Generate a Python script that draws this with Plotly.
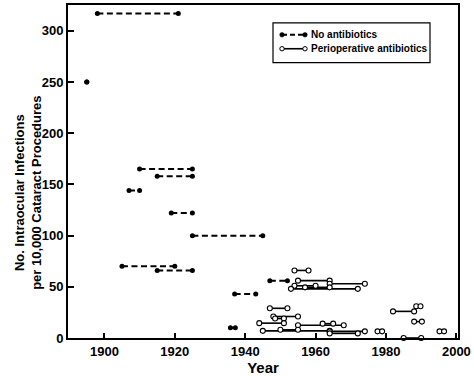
import plotly.graph_objects as go

# ---- data (years of study period, rate per 10,000 procedures) ----
na_start = [1895, 1898, 1910, 1915, 1907, 1919, 1925, 1905, 1915, 1947, 1937, 1935.8]
na_end   = [1895, 1921, 1925, 1925, 1910, 1925, 1945, 1920, 1925, 1952, 1943, 1937.2]
na_rate  = [250, 317, 165, 158, 144, 122, 100, 70, 66, 56, 43, 10]

pa_start = [1954, 1955, 1964, 1954, 1957, 1953, 1988.6, 1947, 1982, 1948, 1948.5, 1988,
            1944, 1955, 1962, 1945, 1950, 1964, 1964, 1977.6, 1995.2, 1985]
pa_end   = [1958, 1964, 1974, 1960, 1964, 1972, 1989.8, 1952, 1988, 1955, 1951, 1990.2,
            1951, 1968, 1965, 1964, 1955, 1974, 1972, 1978.9, 1996.5, 1990]
pa_rate  = [66, 56, 53, 51, 49.5, 48, 31, 29, 26, 21, 19, 16,
            14.5, 12.5, 14, 7, 8, 6.5, 4.5, 6.5, 6.5, 0]

x_ticks = [1900, 1920, 1940, 1960, 1980, 2000]
y_ticks = [0, 50, 100, 150, 200, 250, 300]

FONT = "Liberation Sans, Arial, Helvetica, sans-serif"


def segs(starts, ends, vals):
    xs, ys = [], []
    for s, e, v in zip(starts, ends, vals):
        xs += [s, e, None]
        ys += [v, v, None]
    return xs, ys


fig = go.Figure()

nx, ny = segs(na_start, na_end, na_rate)
fig.add_trace(go.Scatter(
    x=nx, y=ny, mode="lines+markers", name="No antibiotics",
    line=dict(color="black", width=2, dash="6px,3.5px"),
    marker=dict(symbol="circle", size=5, color="black"),
    showlegend=False, cliponaxis=False))

px_, py_ = segs(pa_start, pa_end, pa_rate)
fig.add_trace(go.Scatter(
    x=px_, y=py_, mode="lines+markers", name="Perioperative antibiotics",
    line=dict(color="black", width=1.6),
    marker=dict(symbol="circle", size=5, color="white",
                line=dict(color="black", width=1.1)),
    showlegend=False, cliponaxis=False))

# ---- layout geometry ----
W, H = 474, 376
L, R, T, B = 68, 16, 3, 38
PW, PH = W - L - R, H - T - B


def pxx(p):
    return (p - L) / PW


def pxy(p):
    return (H - B - p) / PH


shapes = []
annotations = []

# legend box
shapes.append(dict(type="rect", xref="paper", yref="paper",
                   x0=pxx(273), x1=pxx(430), y0=pxy(61), y1=pxy(21),
                   line=dict(color="black", width=1.2), fillcolor="white", layer="above"))
# legend row 1: dashed with filled dots
shapes.append(dict(type="line", xref="paper", yref="paper",
                   x0=pxx(282), x1=pxx(305), y0=pxy(33), y1=pxy(33),
                   line=dict(color="black", width=2, dash="5px,3px"), layer="above"))
for xx in (282, 305):
    shapes.append(dict(type="circle", xref="paper", yref="paper", xsizemode="pixel",
                       ysizemode="pixel", xanchor=pxx(xx), yanchor=pxy(33),
                       x0=-2.3, x1=2.3, y0=-2.3, y1=2.3, fillcolor="black",
                       line=dict(color="black", width=0.5), layer="above"))
# legend row 2: solid with open end
shapes.append(dict(type="line", xref="paper", yref="paper",
                   x0=pxx(282), x1=pxx(305), y0=pxy(47), y1=pxy(47),
                   line=dict(color="black", width=1.6), layer="above"))
for xx in (282, 305):
    shapes.append(dict(type="circle", xref="paper", yref="paper", xsizemode="pixel",
                       ysizemode="pixel", xanchor=pxx(xx), yanchor=pxy(47),
                       x0=-2.2, x1=2.2, y0=-2.2, y1=2.2, fillcolor="white",
                       line=dict(color="black", width=1), layer="above"))

annotations.append(dict(text="No antibiotics", xref="paper", yref="paper",
                        x=pxx(309), y=pxy(33), xanchor="left", yanchor="middle",
                        showarrow=False, font=dict(family=FONT, size=10, color="black", weight="bold")))
annotations.append(dict(text="Perioperative antibiotics", xref="paper", yref="paper",
                        x=pxx(309), y=pxy(47), xanchor="left", yanchor="middle",
                        showarrow=False, font=dict(family=FONT, size=10, color="black", weight="bold")))

# y-axis title (two lines)
annotations.append(dict(text="No. Intraocular Infections<br>per 10,000 Cataract Procedures",
                        xref="paper", yref="paper", x=pxx(28), y=pxy(192),
                        xanchor="center", yanchor="middle", textangle=-90, showarrow=False,
                        font=dict(family=FONT, size=13, color="black", weight="bold")))

fig.update_layout(
    width=W, height=H,
    margin=dict(l=L, r=R, t=T, b=B),
    paper_bgcolor="white", plot_bgcolor="white",
    font=dict(family=FONT, color="black"),
    shapes=shapes, annotations=annotations,
    showlegend=False,
)

fig.update_xaxes(
    range=[1889.66, 2000.46], tickvals=x_ticks, ticks="inside", ticklen=5,
    tickwidth=1.5, tickcolor="black", showline=True, linecolor="black", linewidth=2,
    mirror=True, showgrid=False, zeroline=False,
    tickfont=dict(family=FONT, size=13, color="black", weight="bold"),
    title=dict(text="Year", standoff=1,
               font=dict(family=FONT, size=15, color="black", weight="bold")),
)
fig.update_yaxes(
    range=[0, 325.3], tickvals=y_ticks, ticks="inside", ticklen=6,
    tickwidth=1.5, tickcolor="black", showline=True, linecolor="black", linewidth=2,
    mirror=True, showgrid=False, zeroline=False,
    tickfont=dict(family=FONT, size=13, color="black", weight="bold"),
)

fig.write_html("out.html", post_script="document.body.style.margin='0px';",
               config={"displayModeBar": False})
